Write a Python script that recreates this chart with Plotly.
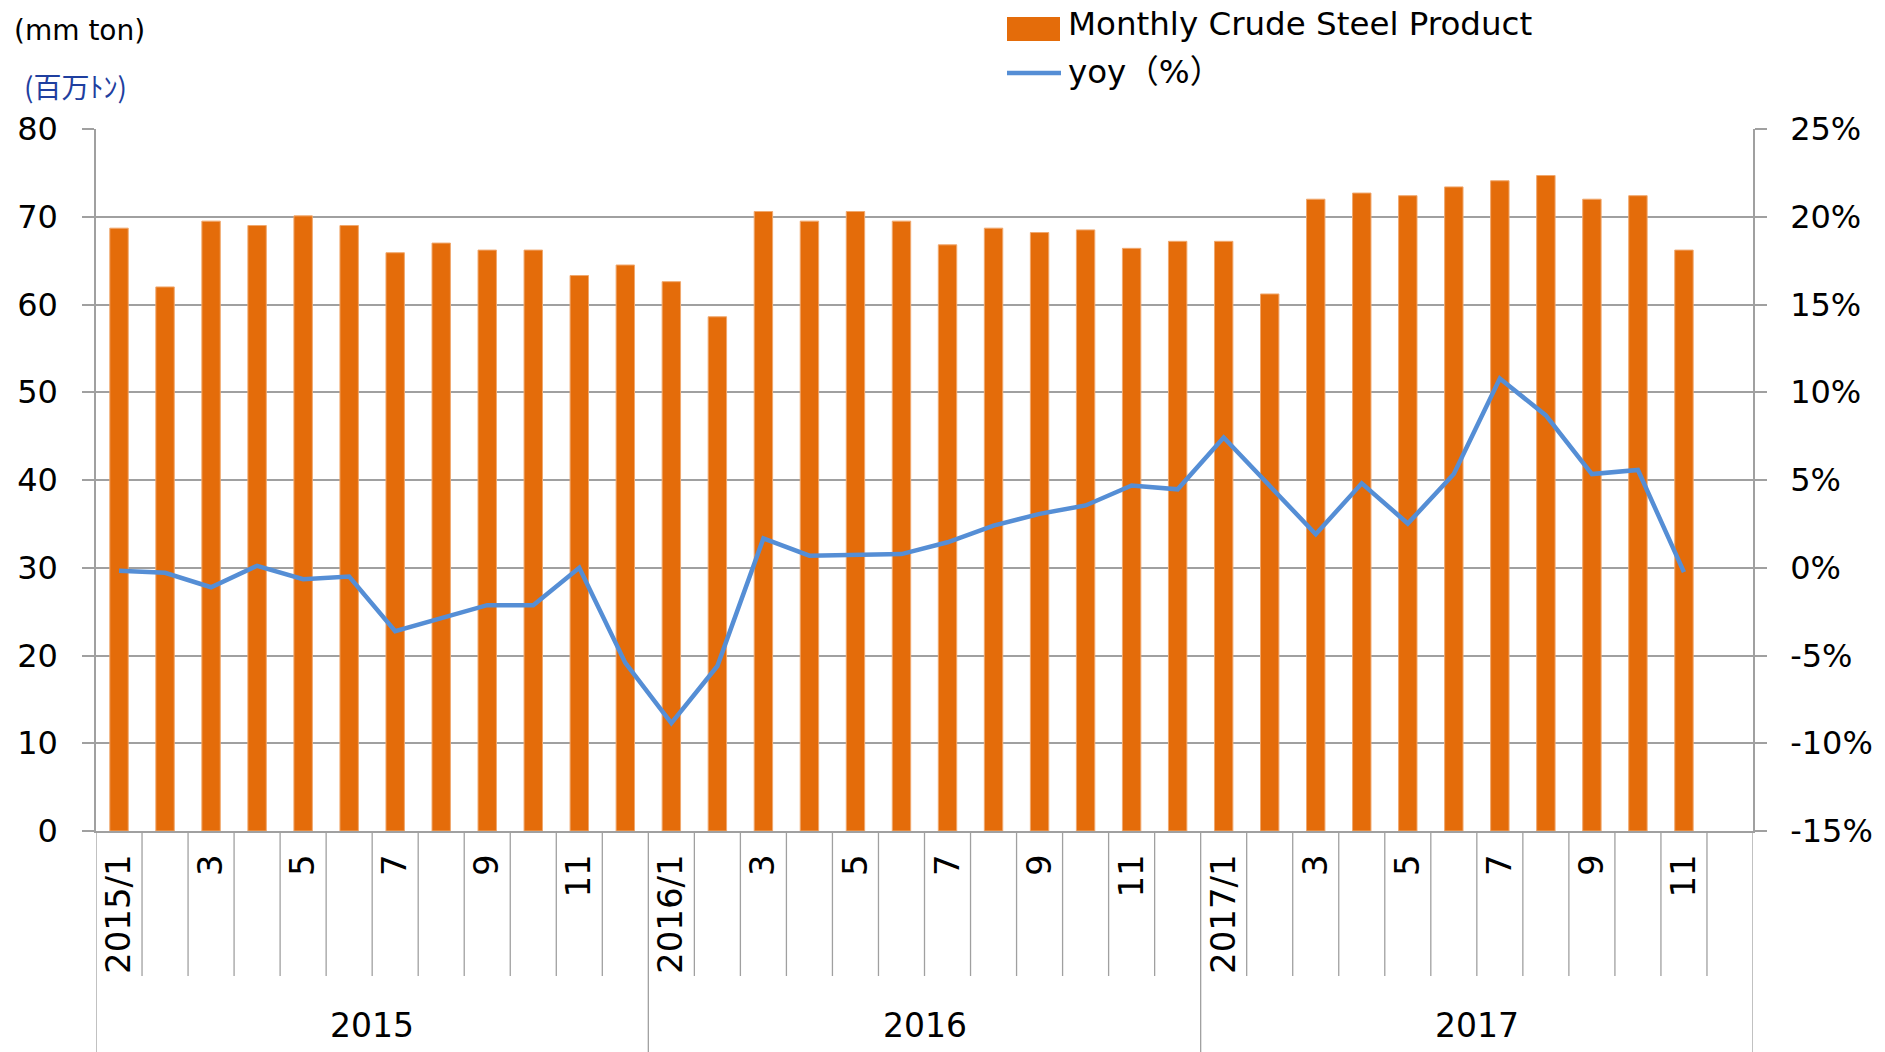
import plotly.graph_objects as go

# ---------------- data ----------------
categories = [
    "2015/1", "2015/2", "2015/3", "2015/4", "2015/5", "2015/6",
    "2015/7", "2015/8", "2015/9", "2015/10", "2015/11", "2015/12",
    "2016/1", "2016/2", "2016/3", "2016/4", "2016/5", "2016/6",
    "2016/7", "2016/8", "2016/9", "2016/10", "2016/11", "2016/12",
    "2017/1", "2017/2", "2017/3", "2017/4", "2017/5", "2017/6",
    "2017/7", "2017/8", "2017/9", "2017/10", "2017/11", "2017/12",
]
month_tick_labels = [
    "2015/1", "", "3", "", "5", "", "7", "", "9", "", "11", "",
    "2016/1", "", "3", "", "5", "", "7", "", "9", "", "11", "",
    "2017/1", "", "3", "", "5", "", "7", "", "9", "", "11", "",
]
years = ["2015", "2016", "2017"]

production = [
    68.7, 62.0, 69.5, 69.0, 70.1, 69.0, 65.9, 67.0, 66.2, 66.2, 63.3, 64.5,
    62.6, 58.6, 70.6, 69.5, 70.6, 69.5, 66.8, 68.7, 68.2, 68.5, 66.4, 67.2,
    67.2, 61.2, 72.0, 72.7, 72.4, 73.4, 74.1, 74.7, 72.0, 72.4, 66.2, None,
]
yoy = [
    -0.17, -0.29, -1.11, 0.11, -0.65, -0.50, -3.62, -2.85, -2.13, -2.13, 0.0, -5.42,
    -8.85, -5.60, 1.67, 0.69, 0.74, 0.78, 1.45, 2.40, 3.07, 3.55, 4.69, 4.47,
    7.42, 4.68, 1.91, 4.81, 2.52, 5.34, 10.78, 8.68, 5.34, 5.57, -0.25, None,
]

left_ticks = [0, 10, 20, 30, 40, 50, 60, 70, 80]
right_ticks = [-15, -10, -5, 0, 5, 10, 15, 20, 25]
right_tick_labels = ["-15%", "-10%", "-5%", "0%", "5%", "10%", "15%", "20%", "25%"]

bar_name = "Monthly Crude Steel Product"
line_name = "yoy（%）"

# ---------------- style ----------------
W, H = 1885, 1052
ML, MR, MT, MB = 96, 132, 129, 221
PW, PH = W - ML - MR, H - MT - MB
ORANGE = "#E46C0A"
BLUE = "#558ED5"
GRID = "#A0A0A0"
FONT = "DejaVu Sans"


def px_x(px):
    return (px - ML) / PW


def px_y(py):
    return (H - MB - py) / PH


fig = go.Figure()
fig.add_trace(go.Bar(
    x=categories, y=production, name=bar_name,
    marker=dict(color=ORANGE, line=dict(color="#F0A86E", width=1)),
    width=0.4, showlegend=False,
))
fig.add_trace(go.Scatter(
    x=categories, y=yoy, name=line_name, yaxis="y2", mode="lines",
    line=dict(color=BLUE, width=4.5), showlegend=False,
))

shapes = []
n = len(categories)
for k in range(n + 1):
    is_year = (k % 12 == 0)
    shapes.append(dict(
        type="line", xref="x", yref="paper",
        x0=k - 0.5, x1=k - 0.5, y0=0, y1=px_y(H) if is_year else px_y(976),
        line=dict(color=GRID, width=1.3),
    ))

# legend (manual)
shapes.append(dict(type="rect", xref="paper", yref="paper",
                   x0=px_x(1007), x1=px_x(1060), y0=px_y(41), y1=px_y(17),
                   fillcolor=ORANGE, line=dict(width=0)))
shapes.append(dict(type="line", xref="paper", yref="paper",
                   x0=px_x(1007), x1=px_x(1061), y0=px_y(73), y1=px_y(73),
                   line=dict(color=BLUE, width=4.5)))

annotations = []
for i, yr in enumerate(years):
    annotations.append(dict(
        x=i * 12 + 5.5, xref="x", y=px_y(1025), yref="paper",
        text=yr, showarrow=False, xanchor="center", yanchor="middle",
        font=dict(family=FONT, size=33, color="#000000"),
    ))
annotations += [
    dict(x=px_x(1066), y=px_y(24), xref="paper", yref="paper", text=bar_name,
         showarrow=False, xanchor="left", yanchor="middle",
         font=dict(family=FONT, size=32.5, color="#000000")),
    dict(x=px_x(1066), y=px_y(72), xref="paper", yref="paper", text=line_name,
         showarrow=False, xanchor="left", yanchor="middle",
         font=dict(family=FONT + ", Noto Sans CJK JP", size=32.5, color="#000000")),
    dict(x=px_x(12), y=px_y(30), xref="paper", yref="paper", text="(mm ton)",
         showarrow=False, xanchor="left", yanchor="middle",
         font=dict(family=FONT, size=28, color="#000000")),
    dict(x=px_x(22), y=px_y(86), xref="paper", yref="paper", text="(百万ﾄﾝ)",
         showarrow=False, xanchor="left", yanchor="middle",
         font=dict(family="Noto Sans CJK JP", size=28, color="#1F3F9F")),
]

fig.update_layout(
    template="none",
    width=W, height=H,
    margin=dict(l=ML, r=MR, t=MT, b=MB, pad=0),
    paper_bgcolor="white", plot_bgcolor="white",
    bargap=0.6,
    font=dict(family=FONT, size=32, color="#000000"),
    xaxis=dict(
        type="category", categoryorder="array", categoryarray=categories,
        range=[-0.5, n - 0.5],
        tickmode="array", tickvals=categories, ticktext=month_tick_labels,
        tickangle=-90, ticks="", showgrid=False,
        showline=True, linecolor=GRID, linewidth=1.5,
        tickfont=dict(family=FONT, size=34, color="#000000"),
        ticklabelstandoff=8, automargin=False, zeroline=False,
    ),
    yaxis=dict(
        range=[0, 80], tickmode="array", tickvals=left_ticks,
        showgrid=True, gridcolor=GRID, gridwidth=1.5,
        showline=True, linecolor=GRID, linewidth=1.5,
        ticks="outside", ticklen=12, tickcolor=GRID, tickwidth=1.5,
        tickfont=dict(family=FONT, size=32, color="#000000"),
        ticklabelstandoff=18, automargin=False, zeroline=False,
    ),
    yaxis2=dict(
        range=[-15, 25], overlaying="y", side="right",
        tickmode="array", tickvals=right_ticks, ticktext=right_tick_labels,
        showgrid=False, showline=True, linecolor=GRID, linewidth=1.5,
        ticks="outside", ticklen=12, tickcolor=GRID, tickwidth=1.5,
        tickfont=dict(family=FONT, size=32, color="#000000"),
        ticklabelstandoff=17, automargin=False, zeroline=False,
    ),
    shapes=shapes, annotations=annotations,
    showlegend=False,
)

fig.write_html(
    "out.html",
    config={"displayModeBar": False},
    post_script="document.body.style.margin='0px';document.body.style.overflow='hidden';",
)
